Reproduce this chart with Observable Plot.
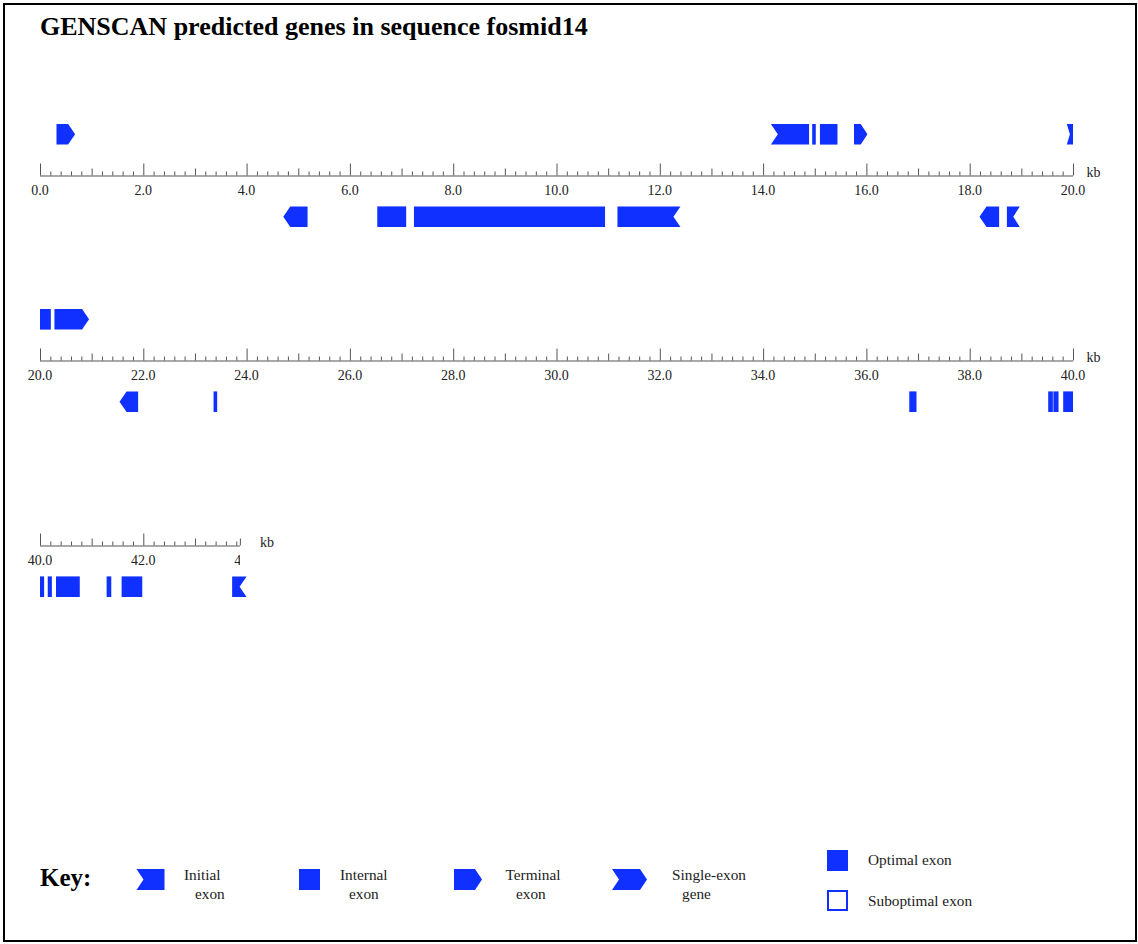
<!DOCTYPE html>
<html><head><meta charset="utf-8">
<script src="https://cdn.jsdelivr.net/npm/d3@7"></script>
<script src="https://cdn.jsdelivr.net/npm/@observablehq/plot@0.6"></script>
<style>
html,body{margin:0;padding:0;background:#fff;}
#page{position:relative;width:1138px;height:944px;overflow:hidden;font-family:"Liberation Serif","Times New Roman",serif;}
#frame{position:absolute;left:3px;top:3px;width:1130px;height:935px;border:2px solid #000;}
#title{position:absolute;left:40px;top:13.5px;font-size:26px;line-height:26px;font-weight:bold;white-space:nowrap;color:#000;}
#chart{position:absolute;left:0;top:103px;}
#legend{position:absolute;left:0;top:830px;}
</style></head><body>
<div id="page"><div id="frame"></div><div id="title"></div><div id="chart"></div><div id="legend"></div></div>
<script>
// ---------------- data ----------------
const sequenceName = "fosmid14";
const sequenceLengthKb = 43.87;
const rowStartKb = [0, 20, 40];
const rowSpanKb = 20;
const tickLabels = [
  ["0.0","2.0","4.0","6.0","8.0","10.0","12.0","14.0","16.0","18.0","20.0"],
  ["20.0","22.0","24.0","26.0","28.0","30.0","32.0","34.0","36.0","38.0","40.0"],
  ["40.0","42.0","44.0"]
];
const exonStartKb = [0.32, 4.71, 6.53, 7.24, 11.18, 14.15, 14.95, 15.10, 15.76, 18.19, 18.72, 19.88, 20.28, 21.54, 23.36, 36.83, 39.52, 39.62, 39.81, 40.15, 40.31, 41.29, 41.58, 43.72];
const exonEndKb   = [0.68, 5.18, 7.09, 10.94, 12.40, 14.89, 15.02, 15.44, 16.02, 18.57, 18.97, 20.21, 20.95, 21.90, 23.43, 36.97, 39.61, 39.72, 40.08, 40.23, 40.77, 41.38, 41.98, 44.00];
const exonStrand  = ["+","-","-","-","-","+","+","+","+","-","-","+","+","-","-","-","-","-","-","-","-","-","-","-"];
const exonType    = ["Term","Term","Intr","Intr","Init","Init","Intr","Intr","Term","Term","Init","Init","Term","Term","Intr","Intr","Intr","Intr","Intr","Intr","Intr","Intr","Intr","Init"];
const keyTypes  = ["Init","Intr","Term","Sngl"];
const keyLabels = [["Initial","exon"],["Internal","exon"],["Terminal","exon"],["Single-exon","gene"]];
const keyQuality = ["Optimal exon","Suboptimal exon"];

// ---------------- styles ----------------
const BLUE = "#1030ff", AXIS = "#555", TEXT = "#222";
const FONT = "'Liberation Serif','Times New Roman',serif";
const NOTCH = 7;
const KEY_FS = 15.3;

document.getElementById("title").textContent = "GENSCAN predicted genes in sequence " + sequenceName;

// ---------------- derived tables ----------------
const rows = rowStartKb.map((s, r) => ({row: r, start: s, end: Math.min(s + rowSpanKb, sequenceLengthKb),
  lastLabel: parseFloat(tickLabels[r][tickLabels[r].length - 1])}));

const pieces = [];
exonStartKb.forEach((s, i) => {
  const e = exonEndKb[i];
  rows.forEach(R => {
    const a = Math.max(s, R.start), b = Math.min(e, R.start + rowSpanKb);
    if (b <= a) return;
    pieces.push({row: R.row, o1: a - R.start, o2: b - R.start, strand: exonStrand[i], type: exonType[i], cutL: a > s, cutR: b < e});
  });
});

const ticks = [];
rows.forEach(R => {
  const n = Math.floor((R.end - R.start) / 0.2 + 1e-6);
  for (let k = 0; k <= n; k++) {
    const kb = R.start + k * 0.2;
    const whole = Math.abs(kb - Math.round(kb)) < 1e-6;
    const kind = whole && Math.round(kb) % 2 === 0 ? "major" : whole ? "medium" : "minor";
    ticks.push({row: R.row, o: kb - R.start, kind});
  }
  if ((R.end - R.start) - n * 0.2 > 1e-6) ticks.push({row: R.row, o: R.end - R.start, kind: "medium"});
});

const labelData = [];
tickLabels.forEach((arr, r) => arr.forEach(l => labelData.push({row: r, o: parseFloat(l) - rowStartKb[r], label: l})));

// ---------------- shape helpers ----------------
function edgeKinds(type, strand) {
  let left = "flat", right = "flat";
  const plus = strand === "+";
  if (type === "Init" || type === "Sngl") { if (plus) left = "notch"; else right = "notch"; }
  if (type === "Term" || type === "Sngl") { if (plus) right = "point"; else left = "point"; }
  return [left, right];
}
function shapePath(xa, xb, yt, yb, left, right) {
  const ym = (yt + yb) / 2;
  const k = Math.min(NOTCH, (xb - xa) / 2);
  let p;
  if (left === "notch") p = `M${xa},${yb}L${xa + k},${ym}L${xa},${yt}`;
  else if (left === "point") p = `M${xa + k},${yb}L${xa},${ym}L${xa + k},${yt}`;
  else p = `M${xa},${yb}L${xa},${yt}`;
  if (right === "notch") p += `L${xb},${yt}L${xb - k},${ym}L${xb},${yb}`;
  else if (right === "point") p += `L${xb - k},${yt}L${xb},${ym}L${xb - k},${yb}`;
  else p += `L${xb},${yt}L${xb},${yb}`;
  return p + "Z";
}

function exonRender(index, scales, values) {
  const g = d3.create("svg:g").attr("fill", BLUE);
  for (const i of index) {
    const d = pieces[i];
    const xa = Math.min(values.x1[i], values.x2[i]), xb = Math.max(values.x1[i], values.x2[i]);
    const yt = Math.min(values.y1[i], values.y2[i]), yb = Math.max(values.y1[i], values.y2[i]);
    let [left, right] = edgeKinds(d.type, d.strand);
    if (d.cutL) left = "flat";
    if (d.cutR) right = "flat";
    g.append("path").attr("d", shapePath(xa, xb, yt, yb, left, right));
  }
  return g.node();
}

function tickLabelRender(index, scales) {
  const g = d3.create("svg:g").attr("font-size", 14).attr("fill", TEXT).attr("text-anchor", "middle").attr("font-family", FONT);
  if (!index.length) return g.node();
  const R = rows[labelData[index[0]].row];
  const t = g.append("g");
  if (R.end - R.start < rowSpanKb) {
    const id = "tick-label-clip-" + R.row;
    g.insert("clipPath", ":first-child").attr("id", id).append("rect")
      .attr("x", -1000).attr("y", -1000).attr("width", 1000 + scales.x(R.end - R.start)).attr("height", 3000);
    t.attr("clip-path", `url(#${id})`);
  }
  for (const i of index) {
    const d = labelData[i];
    t.append("text").attr("x", scales.x(d.o)).attr("y", scales.y(0) + 15).attr("dy", "0.32em").text(d.label);
  }
  return g.node();
}

// ---------------- chart ----------------
const chart = Plot.plot({
  width: 1138,
  height: 516,
  marginLeft: 40, marginRight: 65, marginTop: 20, marginBottom: 20,
  x: {domain: [0, rowSpanKb], axis: null},
  y: {domain: [-1, 1], axis: null},
  fy: {domain: [0, 1, 2], axis: null, paddingInner: 0.44086, paddingOuter: 0},
  style: `font-family:${FONT};font-size:14px;background:transparent;overflow:visible;`,
  marks: [
    Plot.ruleY(rows, {fy: "row", y: 0, x1: 0, x2: d => d.end - d.start, stroke: AXIS, strokeWidth: 1.2}),
    Plot.ruleX(ticks.filter(d => d.kind === "minor"), {fy: "row", x: "o", y1: 0, y2: 0, insetTop: -4, stroke: AXIS, strokeWidth: 1}),
    Plot.ruleX(ticks.filter(d => d.kind === "medium"), {fy: "row", x: "o", y1: 0, y2: 0, insetTop: -7, stroke: AXIS, strokeWidth: 1}),
    Plot.ruleX(ticks.filter(d => d.kind === "major"), {fy: "row", x: "o", y1: 0, y2: 0, insetTop: -12, stroke: AXIS, strokeWidth: 1}),
    Plot.text(labelData, {fy: "row", x: "o", y: 0, text: "label", render: tickLabelRender}),
    Plot.text(rows, {fy: "row", x: d => d.lastLabel - d.start, y: 0, text: () => "kb", textAnchor: "start", dx: 13, dy: -3, fontSize: 14, fill: TEXT}),
    Plot.rect(pieces, {fy: "row", x1: "o1", x2: "o2",
      y1: d => d.strand === "+" ? 1 : -0.6, y2: d => d.strand === "+" ? 0.6 : -1,
      fill: BLUE, render: exonRender})
  ]
});
document.getElementById("chart").append(chart);

// ---------------- legend (key) ----------------
const OY = 830;
const leg = d3.create("svg").attr("width", 1138).attr("height", 100)
  .attr("font-family", FONT).style("display", "block");
leg.append("text").attr("x", 40).attr("y", 886 - OY).attr("font-size", 25).attr("font-weight", "bold").attr("fill", "#000").text("Key:");
const iconX = [136.5, 299, 454, 612];
const iconW = [28, 21, 28, 35];
const labX = [[184, 195], [340, 349], [505.5, 516], [672, 682]];
keyTypes.forEach((t, i) => {
  const [l, r] = edgeKinds(t, "+");
  leg.append("path").attr("fill", BLUE).attr("d", shapePath(iconX[i], iconX[i] + iconW[i], 869 - OY, 890 - OY, l, r));
  leg.append("text").attr("x", labX[i][0]).attr("y", 880 - OY).attr("font-size", KEY_FS).attr("fill", TEXT).text(keyLabels[i][0]);
  leg.append("text").attr("x", labX[i][1]).attr("y", 899 - OY).attr("font-size", KEY_FS).attr("fill", TEXT).text(keyLabels[i][1]);
});
leg.append("rect").attr("x", 827).attr("y", 850 - OY).attr("width", 21).attr("height", 21).attr("fill", BLUE);
leg.append("text").attr("x", 868).attr("y", 865 - OY).attr("font-size", KEY_FS).attr("fill", TEXT).text(keyQuality[0]);
leg.append("rect").attr("x", 828).attr("y", 891 - OY).attr("width", 19).attr("height", 19).attr("fill", "none").attr("stroke", BLUE).attr("stroke-width", 2);
leg.append("text").attr("x", 868).attr("y", 906 - OY).attr("font-size", KEY_FS).attr("fill", TEXT).text(keyQuality[1]);
document.getElementById("legend").append(leg.node());
</script></body></html>
